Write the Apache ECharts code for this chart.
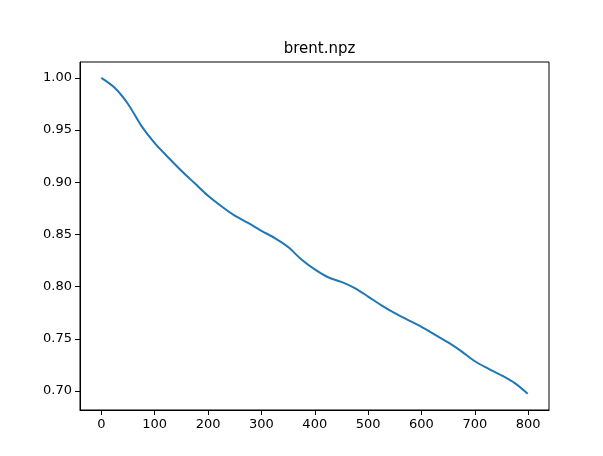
<!DOCTYPE html>
<html>
<head>
<meta charset="utf-8">
<script src="https://cdn.jsdelivr.net/npm/echarts@6/dist/echarts.min.js"></script>
<style>
  html, body { margin: 0; padding: 0; background: #fff; }
  #chart { width: 603px; height: 456px; }
</style>
</head>
<body>
<div id="chart"></div>
<script>
// values
const steps = [0, 25, 50, 75, 100, 125, 150, 175, 200, 225, 250, 275, 300, 325, 350, 375, 400,
  425, 450, 475, 500, 525, 550, 575, 600, 625, 650, 675, 700, 725, 750, 775, 799]
const loss = [1.000, 0.9905, 0.975, 0.954, 0.9375, 0.924, 0.911, 0.899, 0.887, 0.877, 0.868,
  0.861, 0.8535, 0.8465, 0.838, 0.826, 0.8165, 0.809, 0.8045, 0.7986, 0.7905, 0.782, 0.7745,
  0.768, 0.7615, 0.754, 0.7465, 0.738, 0.7285, 0.7215, 0.715, 0.7075, 0.6974]
const xTicks = [0, 100, 200, 300, 400, 500, 600, 700, 800]
const yTicks = [0.70, 0.75, 0.80, 0.85, 0.90, 0.95, 1.00]

const chart = echarts.init(document.getElementById('chart'))

const labelFont = {
  color: '#000',
  fontFamily: 'DejaVu Sans',
  fontSize: 13
}

chart.setOption({
  animation: false,
  backgroundColor: '#fff',
  title: {
    text: 'brent.npz',
    left: 314.5,
    top: 37,
    textAlign: 'center',
    textStyle: {
      color: '#000',
      fontFamily: 'DejaVu Sans',
      fontWeight: 'normal',
      fontSize: 15
    }
  },
  grid: {
    left: 80,
    right: 54,
    top: 62,
    bottom: 46,
    show: true,
    borderColor: '#000',
    borderWidth: 1
  },
  xAxis: {
    type: 'value',
    min: -40,
    max: 839,
    splitLine: { show: false },
    axisLine: { show: true, onZero: false, lineStyle: { color: '#000', width: 1 } },
    axisTick: {
      show: true,
      length: 5,
      customValues: xTicks,
      lineStyle: { color: '#000' }
    },
    axisLabel: {
      ...labelFont,
      margin: 8,
      customValues: xTicks
    }
  },
  yAxis: {
    type: 'value',
    min: 0.6818,
    max: 1.0152,
    splitLine: { show: false },
    axisLine: { show: true, onZero: false, lineStyle: { color: '#000', width: 1 } },
    axisTick: {
      show: true,
      length: 5,
      customValues: yTicks,
      lineStyle: { color: '#000' }
    },
    axisLabel: {
      ...labelFont,
      margin: 8,
      customValues: yTicks,
      formatter: v => v.toFixed(2)
    }
  },
  series: [
    {
      type: 'line',
      data: steps.map((s, i) => [s, loss[i]]),
      showSymbol: false,
      smooth: 0.3,
      lineStyle: { color: '#1f77b4', width: 2 }
    }
  ]
})
</script>
</body>
</html>
